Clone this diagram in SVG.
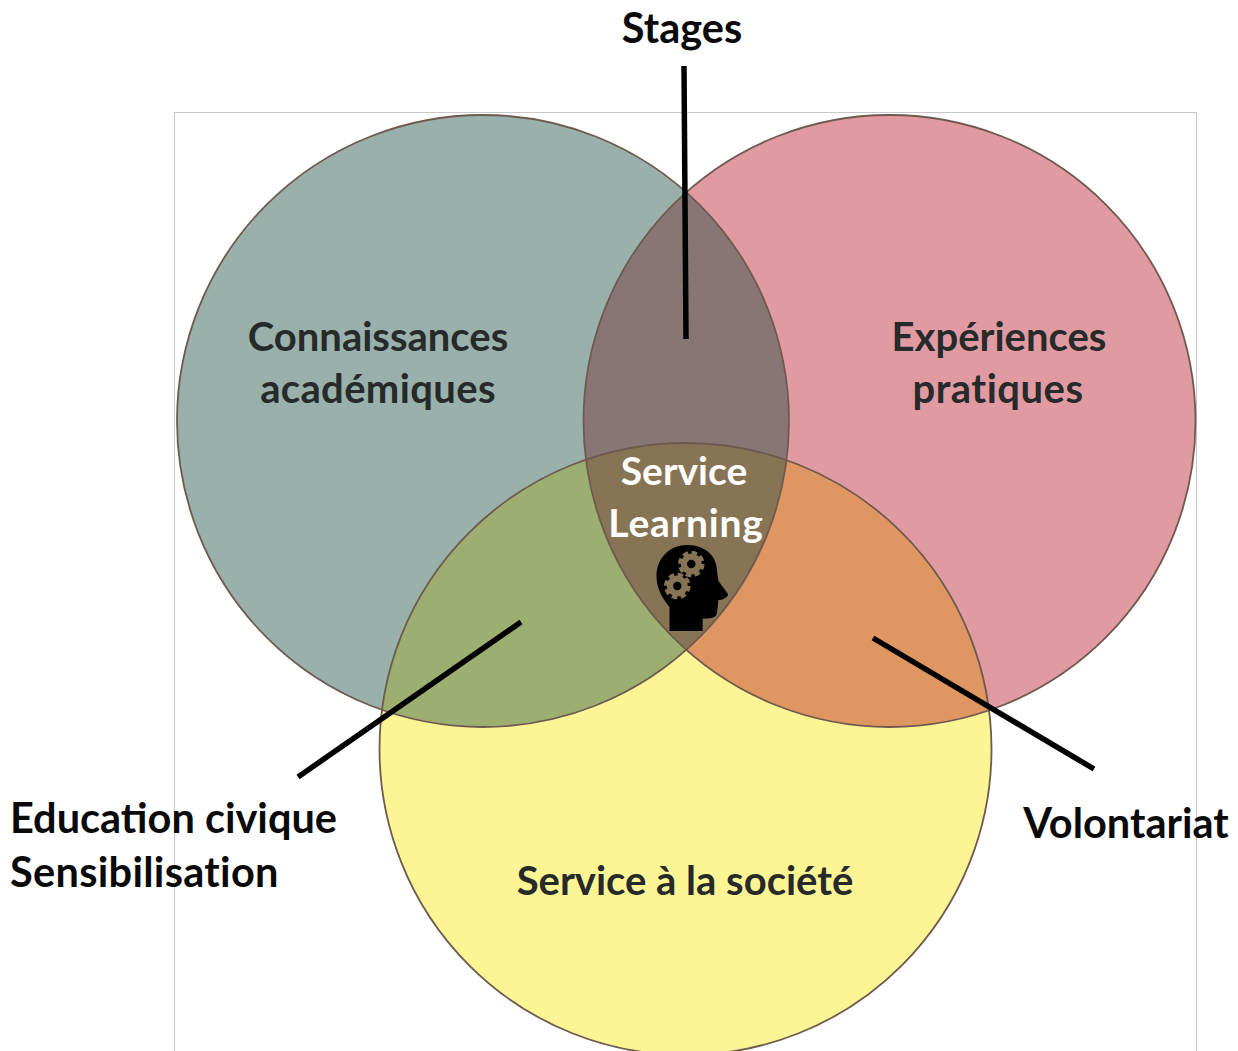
<svg xmlns="http://www.w3.org/2000/svg" width="1238" height="1051" viewBox="0 0 1238 1051">
<style>
text{font-family:Lato,"Liberation Sans",sans-serif;font-weight:700;text-anchor:middle}
.in{font-size:40px;fill:#262a2b}
.out{font-size:41.500px;fill:#0a0a0a}
.ctr{font-size:39px;fill:#fff}
.edge{fill:none;stroke:#6f5a50;stroke-width:1.800}
.conn{stroke:#000;stroke-width:5.500;fill:none}
</style>
<defs>
<clipPath id="cl"><circle cx="483" cy="421" r="306"/></clipPath>
<clipPath id="cr"><circle cx="889.5" cy="421" r="306"/></clipPath>
</defs>
<rect id="frame" x="174.5" y="112.5" width="1022" height="960" fill="#fff" stroke="#c8c8c8" stroke-width="1"/>
<g id="circle-bottom"><circle cx="685.5" cy="749" r="306" fill="#fdf594"/></g>
<g id="circle-left"><circle cx="483" cy="421" r="306" fill="#9ab0aa"/></g>
<g id="circle-right"><circle cx="889.5" cy="421" r="306" fill="#e29aa2"/></g>
<g id="overlaps">
<g clip-path="url(#cl)"><circle cx="889.5" cy="421" r="306" fill="#887675"/><circle cx="685.5" cy="749" r="306" fill="#9daf70"/></g>
<g clip-path="url(#cr)"><circle cx="685.5" cy="749" r="306" fill="#e09660"/></g>
<g clip-path="url(#cl)"><g clip-path="url(#cr)"><circle cx="685.5" cy="749" r="306" fill="#877455"/></g></g>
</g>
<g id="outlines">
<circle class="edge" cx="685.5" cy="749" r="306"/>
<circle class="edge" cx="483" cy="421" r="306"/>
<circle class="edge" cx="889.5" cy="421" r="306"/>
</g>
<g id="connectors">
<line class="conn" x1="684" y1="66" x2="686" y2="339"/>
<line class="conn" x1="298" y1="777" x2="521" y2="622"/>
<line class="conn" x1="873" y1="638" x2="1094" y2="769"/>
</g>
<g id="label-left"><text class="in" x="378" y="351">Connaissances</text><text class="in" x="378" y="403" style="letter-spacing:.35px">académiques</text></g>
<g id="label-right"><text class="in" x="999" y="351">Expériences</text><text class="in" x="998" y="403" style="letter-spacing:.5px">pratiques</text></g>
<g id="label-bottom"><text class="in" x="685" y="895">Service à la société</text></g>
<g id="label-center"><text class="ctr" x="684" y="485">Service</text><text class="ctr" x="686" y="537" style="letter-spacing:.8px">Learning</text></g>
<g id="icon-head">
<path d="M669.5 631V607C662 598 656.500 588 656.500 576C656.500 558 670 545 687 545C706 545 717 557 717 571L718.500 581L728 594C728 598 722 600 718.500 600L717 613C716 618 710 619 702.700 618.500V631Z" fill="#000"/>
<circle cx="691.300" cy="564" r="10.500" fill="#877455"/>
<circle cx="691.300" cy="564" r="11.500" fill="none" stroke="#877455" stroke-width="3.500" stroke-dasharray="5.500 3.530"/>
<circle cx="691.300" cy="564" r="4.200" fill="#000"/>
<circle cx="677.300" cy="586" r="10.500" fill="#877455"/>
<circle cx="677.300" cy="586" r="11.500" fill="none" stroke="#877455" stroke-width="3.500" stroke-dasharray="5.500 3.530"/>
<circle cx="677.300" cy="586" r="4.200" fill="#000"/>
</g>
<g id="label-stages"><text class="out" x="682" y="43">Stages</text></g>
<g id="label-civic"><text class="out" x="10" y="833" style="text-anchor:start">Education civique</text><text class="out" x="10" y="887" style="text-anchor:start;letter-spacing:.3px">Sensibilisation</text></g>
<g id="label-volontariat"><text class="out" x="1126" y="838">Volontariat</text></g>
</svg>
